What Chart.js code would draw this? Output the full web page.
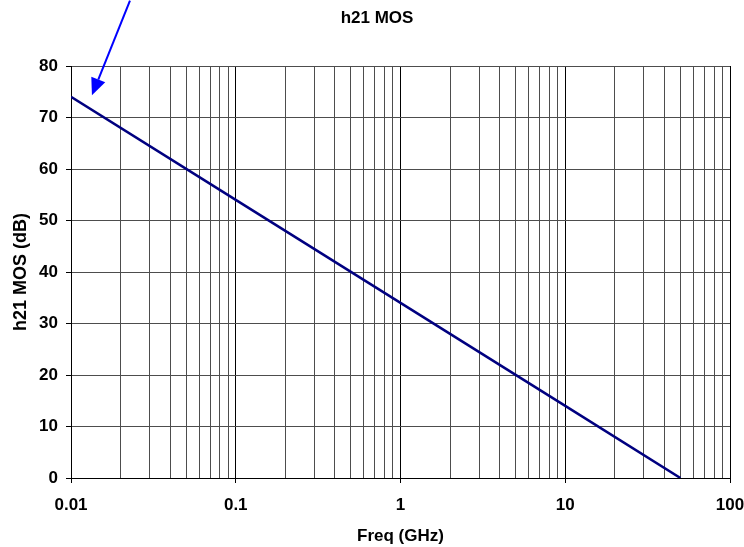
<!DOCTYPE html>
<html>
<head>
<meta charset="utf-8">
<script src="https://cdn.jsdelivr.net/npm/chart.js@4"></script>
<style>
  html, body { margin: 0; padding: 0; background: #fff; }
  #wrap { width: 744px; height: 547px; }
</style>
</head>
<body>
<div id="wrap"><canvas id="chartH21"></canvas></div>
<script>
// data
var freqGHz = [0.01, 0.1, 1, 10, 50];
var h21dB = [74, 54, 34, 14, 0];
var decadeLabels = [0.01, 0.1, 1, 10, 100];
// arrow annotation, in data units (freq, dB)
var arrowFrom = [0.0228, 92.7];
var arrowTo = [0.0134, 74.3];

var gridTicks = [];
[0.01, 0.1, 1, 10].forEach(function (d) {
    for (var m = 1; m <= 9; m++) gridTicks.push(+(d * m).toPrecision(3));
});
gridTicks.push(100);

function isDecade(v) {
    return decadeLabels.some(function (d) { return Math.abs(d - v) < 1e-9; });
}

var arrowPlugin = {
    id: 'arrow',
    afterDraw: function (chart) {
        var ctx = chart.ctx, xs = chart.scales.x, ys = chart.scales.y;
        var x0 = xs.getPixelForValue(arrowFrom[0]), y0 = ys.getPixelForValue(arrowFrom[1]);
        var x1 = xs.getPixelForValue(arrowTo[0]), y1 = ys.getPixelForValue(arrowTo[1]);
        var ang = Math.atan2(y1 - y0, x1 - x0);
        var len = 17, half = 7.5;
        var bx = x1 - len * Math.cos(ang), by = y1 - len * Math.sin(ang);
        ctx.save();
        ctx.strokeStyle = '#0000ff';
        ctx.fillStyle = '#0000ff';
        ctx.lineWidth = 2;
        ctx.beginPath();
        ctx.moveTo(x0, y0);
        ctx.lineTo(bx, by);
        ctx.stroke();
        ctx.beginPath();
        ctx.moveTo(x1, y1);
        ctx.lineTo(bx + half * Math.sin(ang), by - half * Math.cos(ang));
        ctx.lineTo(bx - half * Math.sin(ang), by + half * Math.cos(ang));
        ctx.closePath();
        ctx.fill();
        ctx.restore();
    }
};

var font = 'Liberation Sans, Arial, sans-serif';

var ctx = document.getElementById('chartH21').getContext('2d');
var chartH21 = new Chart(ctx, {
    type: 'line',
    data: {
        datasets: [{
            label: 'h21 MOS',
            data: freqGHz.map(function (f, i) { return { x: f, y: h21dB[i] }; }),
            borderColor: '#000080',
            borderWidth: 2.5,
            pointRadius: 0,
            fill: false,
            tension: 0
        }]
    },
    options: {
        responsive: true,
        maintainAspectRatio: false,
        animation: false,
        layout: { padding: { left: 10, right: 0, top: 0, bottom: 0 } },
        plugins: {
            legend: { display: false },
            tooltip: { enabled: false },
            title: {
                display: true,
                text: 'h21 MOS',
                color: '#000',
                font: { family: font, size: 17, weight: 'bold' },
                lineHeight: 1.2,
                padding: { top: 8, bottom: 37.6 }
            }
        },
        scales: {
            x: {
                type: 'logarithmic',
                min: 0.01,
                max: 100,
                afterBuildTicks: function (scale) {
                    scale.ticks = gridTicks.map(function (v) { return { value: v }; });
                },
                afterFit: function (scale) {
                    scale.height = 69;
                    scale.paddingLeft = 0;
                    scale.paddingRight = 14;
                },
                ticks: {
                    autoSkip: false,
                    maxRotation: 0,
                    padding: 12,
                    color: '#000',
                    font: { family: font, size: 17, weight: 'bold' },
                    callback: function (value) { return isDecade(value) ? String(value) : ''; }
                },
                grid: {
                    color: function (c) { return c.tick && isDecade(c.tick.value) ? '#000' : '#4d4d4d'; },
                    tickColor: function (c) { return c.tick && isDecade(c.tick.value) ? '#000' : 'rgba(0,0,0,0)'; },
                    tickLength: 5,
                    lineWidth: 1
                },
                border: { color: '#000', width: 1 },
                title: {
                    display: true,
                    text: 'Freq (GHz)',
                    color: '#000',
                    font: { family: font, size: 17, weight: 'bold' },
                    padding: { top: 4, bottom: 0 }
                }
            },
            y: {
                min: 0,
                max: 80,
                afterFit: function (scale) { scale.width = 61; },
                ticks: {
                    stepSize: 10,
                    padding: 8,
                    color: '#000',
                    font: { family: font, size: 17, weight: 'bold' }
                },
                grid: {
                    color: '#4d4d4d',
                    tickColor: '#000',
                    tickLength: 5,
                    lineWidth: 1
                },
                border: { color: '#000', width: 1 },
                title: {
                    display: true,
                    text: 'h21 MOS (dB)',
                    color: '#000',
                    font: { family: font, size: 18, weight: 'bold' },
                    padding: { top: 0, bottom: 4 }
                }
            }
        }
    },
    plugins: [arrowPlugin]
});
</script>
</body>
</html>
